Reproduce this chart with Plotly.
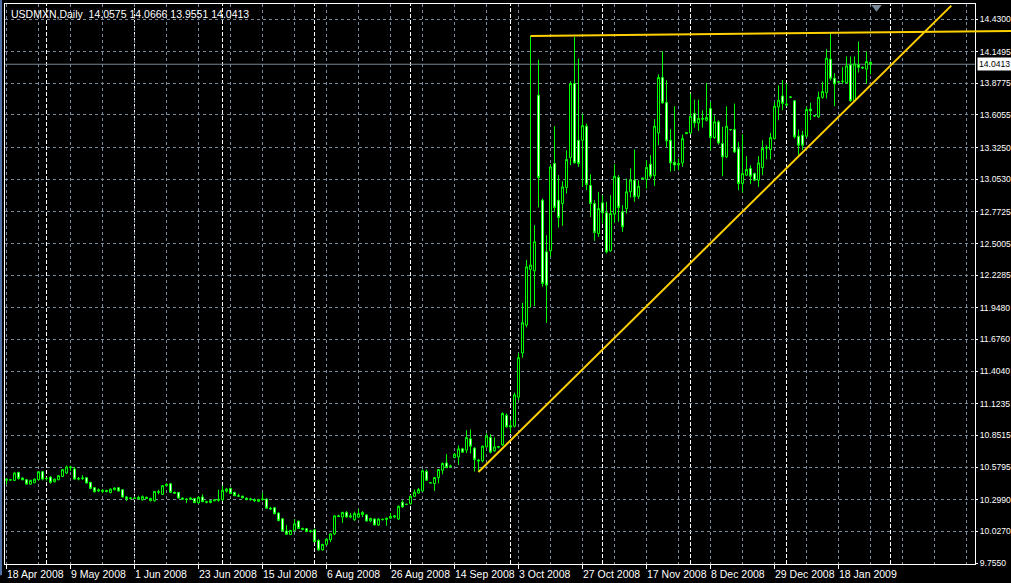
"""
USDMXN daily candles, MT4 style (black background, lime candles,
gold trendlines).
"""

import plotly.graph_objects as go


# ── Data ───────────────────────────────────────────────────────────────────────

SYMBOL = "USDMXN,Daily"

OPEN = [
    10.465, 10.468, 10.465, 10.534, 10.485, 10.471, 10.433, 10.445, 10.471, 10.539,
    10.480, 10.494, 10.453, 10.471, 10.499, 10.528, 10.574, 10.563, 10.476, 10.480,
    10.488, 10.448, 10.402, 10.373, 10.370, 10.378, 10.360, 10.385, 10.402, 10.385,
    10.322, 10.310, 10.313, 10.305, 10.298, 10.320, 10.290, 10.290, 10.362, 10.345,
    10.420, 10.436, 10.362, 10.362, 10.313, 10.305, 10.302, 10.310, 10.273, 10.322,
    10.282, 10.275, 10.290, 10.293, 10.298, 10.372, 10.396, 10.362, 10.333, 10.330,
    10.312, 10.300, 10.300, 10.285, 10.300, 10.305, 10.226, 10.230, 10.184, 10.135,
    10.030, 10.000, 10.035, 10.115, 10.052, 10.050, 10.025, 10.040, 9.948, 9.868,
    9.915, 9.955, 10.005, 10.160, 10.150, 10.190, 10.150, 10.128, 10.150, 10.170,
    10.168, 10.116, 10.133, 10.082, 10.128, 10.128, 10.140, 10.150, 10.133, 10.277,
    10.258, 10.265, 10.328, 10.357, 10.374, 10.541, 10.445, 10.438, 10.489, 10.552,
    10.615, 10.585, 10.661, 10.667, 10.736, 10.725, 10.822, 10.742, 10.640, 10.632,
    10.753, 10.833, 10.719, 10.750, 10.770, 11.023, 10.935, 10.930, 11.180, 11.560,
    11.800, 12.278, 12.266, 13.775, 12.873, 12.429, 12.438, 13.188, 12.873, 12.844,
    12.982, 13.239, 13.875, 13.388, 13.388, 13.509, 12.999, 12.844, 12.587, 12.850,
    12.764, 12.438, 12.753, 13.068, 12.773, 12.801, 12.945, 13.045, 12.907, 13.055,
    13.051, 13.182, 13.085, 13.451, 13.927, 13.712, 13.388, 13.199, 13.176, 13.193,
    13.445, 13.451, 13.617, 13.537, 13.575, 13.560, 13.660, 13.411, 13.546, 13.359,
    13.245, 13.478, 13.480, 13.317, 13.016, 13.088, 13.145, 13.102, 13.045, 13.153,
    13.320, 13.308, 13.402, 13.674, 13.769, 13.700, 13.757, 13.728, 13.423, 13.432,
    13.423, 13.656, 13.596, 13.590, 13.757, 13.797, 14.085, 13.921, 13.888, 13.892,
    13.883, 14.036, 13.728, 14.036, 14.016, 13.999, 14.0575,
]

HIGH = [
    10.482, 10.472, 10.539, 10.539, 10.490, 10.476, 10.470, 10.482, 10.545, 10.545,
    10.490, 10.500, 10.482, 10.510, 10.563, 10.592, 10.592, 10.580, 10.494, 10.510,
    10.494, 10.453, 10.408, 10.396, 10.390, 10.385, 10.396, 10.405, 10.405, 10.388,
    10.330, 10.322, 10.320, 10.333, 10.335, 10.325, 10.316, 10.373, 10.385, 10.425,
    10.442, 10.442, 10.370, 10.365, 10.318, 10.310, 10.320, 10.313, 10.325, 10.345,
    10.290, 10.295, 10.305, 10.385, 10.418, 10.400, 10.402, 10.367, 10.350, 10.333,
    10.318, 10.315, 10.310, 10.305, 10.356, 10.310, 10.238, 10.236, 10.190, 10.140,
    10.080, 10.040, 10.132, 10.118, 10.058, 10.055, 10.040, 10.050, 9.960, 9.920,
    9.965, 10.010, 10.165, 10.170, 10.195, 10.200, 10.185, 10.196, 10.219, 10.200,
    10.175, 10.140, 10.140, 10.140, 10.135, 10.145, 10.185, 10.165, 10.250, 10.294,
    10.262, 10.340, 10.386, 10.400, 10.560, 10.558, 10.448, 10.495, 10.560, 10.620,
    10.690, 10.600, 10.700, 10.765, 10.745, 10.897, 10.903, 10.750, 10.650, 10.765,
    10.870, 10.862, 10.833, 10.760, 11.050, 11.040, 10.983, 11.220, 11.560, 11.990,
    12.360, 14.284, 12.658, 14.081, 12.887, 12.572, 13.182, 13.509, 13.088, 13.036,
    13.302, 13.895, 14.276, 14.090, 13.617, 13.531, 13.096, 12.873, 12.945, 12.916,
    12.859, 12.916, 13.182, 13.088, 12.830, 13.059, 13.145, 13.308, 13.045, 13.065,
    13.217, 13.260, 13.569, 13.955, 14.153, 13.904, 13.483, 13.680, 13.231, 13.437,
    13.456, 13.789, 13.737, 13.737, 13.646, 13.881, 13.717, 13.603, 13.560, 13.503,
    13.680, 13.485, 13.703, 13.374, 13.440, 13.251, 13.173, 13.110, 13.251, 13.388,
    13.345, 13.451, 13.717, 13.860, 13.906, 13.878, 13.765, 13.734, 13.481, 13.469,
    13.676, 13.711, 13.605, 13.806, 13.892, 14.171, 14.309, 13.964, 13.898, 14.016,
    14.108, 14.108, 14.108, 14.237, 14.020, 14.151, 14.0666,
]

LOW = [
    10.430, 10.462, 10.459, 10.471, 10.466, 10.430, 10.428, 10.440, 10.465, 10.465,
    10.462, 10.437, 10.448, 10.465, 10.494, 10.520, 10.545, 10.470, 10.465, 10.468,
    10.437, 10.390, 10.362, 10.365, 10.356, 10.362, 10.354, 10.380, 10.370, 10.318,
    10.287, 10.300, 10.305, 10.300, 10.290, 10.305, 10.285, 10.282, 10.345, 10.340,
    10.415, 10.356, 10.350, 10.310, 10.300, 10.270, 10.298, 10.270, 10.265, 10.278,
    10.268, 10.268, 10.285, 10.282, 10.290, 10.360, 10.350, 10.330, 10.322, 10.310,
    10.295, 10.290, 10.280, 10.280, 10.290, 10.222, 10.210, 10.175, 10.112, 10.029,
    10.000, 9.995, 10.030, 10.050, 10.035, 10.020, 10.015, 9.935, 9.860, 9.860,
    9.905, 9.935, 9.995, 10.150, 10.100, 10.145, 10.140, 10.116, 10.140, 10.150,
    10.110, 10.105, 10.080, 10.075, 10.120, 10.075, 10.135, 10.140, 10.125, 10.230,
    10.255, 10.255, 10.320, 10.350, 10.368, 10.462, 10.440, 10.374, 10.440, 10.518,
    10.570, 10.575, 10.655, 10.598, 10.700, 10.700, 10.696, 10.541, 10.540, 10.620,
    10.745, 10.696, 10.710, 10.740, 10.760, 10.920, 10.870, 10.920, 11.150, 11.520,
    11.780, 11.950, 11.963, 12.810, 12.129, 11.819, 12.386, 12.773, 12.638, 12.653,
    12.930, 13.174, 13.188, 13.159, 12.987, 12.959, 12.730, 12.524, 12.558, 12.673,
    12.415, 12.429, 12.678, 12.687, 12.601, 12.758, 12.896, 12.859, 12.884, 13.050,
    12.973, 13.060, 12.996, 13.345, 13.703, 13.331, 13.119, 13.125, 13.130, 13.159,
    13.440, 13.440, 13.497, 13.468, 13.497, 13.550, 13.302, 13.400, 13.350, 13.079,
    13.235, 13.470, 13.280, 12.959, 12.936, 13.080, 13.010, 13.038, 12.987, 13.088,
    13.225, 13.225, 13.395, 13.560, 13.648, 13.680, 13.750, 13.403, 13.259, 13.303,
    13.410, 13.561, 13.590, 13.580, 13.745, 13.748, 13.901, 13.682, 13.880, 13.870,
    13.875, 13.719, 13.720, 13.970, 14.000, 13.872, 13.9551,
]

CLOSE = [
    10.476, 10.470, 10.528, 10.482, 10.470, 10.433, 10.465, 10.476, 10.539, 10.476,
    10.482, 10.448, 10.476, 10.505, 10.557, 10.580, 10.580, 10.476, 10.480, 10.485,
    10.442, 10.396, 10.367, 10.385, 10.378, 10.370, 10.390, 10.399, 10.373, 10.322,
    10.310, 10.313, 10.310, 10.318, 10.325, 10.310, 10.310, 10.370, 10.368, 10.420,
    10.430, 10.362, 10.355, 10.313, 10.305, 10.302, 10.312, 10.273, 10.320, 10.282,
    10.278, 10.290, 10.298, 10.302, 10.380, 10.390, 10.352, 10.333, 10.330, 10.315,
    10.300, 10.305, 10.290, 10.302, 10.305, 10.226, 10.220, 10.178, 10.120, 10.031,
    10.002, 10.035, 10.092, 10.052, 10.045, 10.025, 10.030, 9.937, 9.868, 9.915,
    9.960, 10.005, 10.160, 10.155, 10.190, 10.150, 10.160, 10.179, 10.179, 10.190,
    10.116, 10.139, 10.082, 10.133, 10.130, 10.140, 10.156, 10.160, 10.242, 10.237,
    10.260, 10.328, 10.363, 10.386, 10.547, 10.466, 10.443, 10.489, 10.558, 10.610,
    10.575, 10.588, 10.690, 10.736, 10.707, 10.833, 10.759, 10.644, 10.632, 10.759,
    10.845, 10.707, 10.753, 10.755, 11.040, 10.925, 10.925, 11.200, 11.520, 11.820,
    12.300, 12.315, 12.515, 13.068, 12.157, 12.143, 13.159, 12.810, 12.724, 12.987,
    13.222, 13.875, 13.194, 13.188, 13.514, 13.008, 12.844, 12.595, 12.801, 12.764,
    12.429, 12.758, 13.079, 12.810, 12.644, 12.945, 13.045, 12.902, 12.993, 13.062,
    13.154, 13.079, 13.509, 13.927, 13.709, 13.383, 13.193, 13.176, 13.188, 13.402,
    13.453, 13.594, 13.537, 13.577, 13.570, 13.583, 13.411, 13.546, 13.365, 13.245,
    13.508, 13.480, 13.288, 13.016, 13.102, 13.136, 13.079, 13.045, 13.193, 13.317,
    13.326, 13.411, 13.680, 13.732, 13.705, 13.690, 13.760, 13.418, 13.346, 13.346,
    13.653, 13.640, 13.600, 13.757, 13.806, 14.093, 13.921, 13.872, 13.892, 13.895,
    14.027, 13.728, 14.044, 14.016, 14.010, 14.064, 14.0413,
]

# date labels sit every 16 bars, grid every 8 bars
LABEL_BARS = [0, 16, 32, 48, 64, 80, 96, 112, 128, 144, 160, 176, 192, 208]
LABEL_TEXT = [
    "18 Apr 2008", "9 May 2008", "1 Jun 2008", "23 Jun 2008", "15 Jul 2008",
    "6 Aug 2008", "26 Aug 2008", "14 Sep 2008", "3 Oct 2008", "27 Oct 2008",
    "17 Nov 2008", "8 Dec 2008", "29 Dec 2008", "18 Jan 2009",
]
GRID_BARS = [8 * k for k in range(31)]

# first bar of each month (period separators)
MONTH_START_BARS = [10, 32, 54, 77, 101, 126, 149, 171, 195, 221]

PRICE_TICKS = [
    14.4300, 14.1495, 13.8775, 13.6055, 13.3250, 13.0530, 12.7725, 12.5005, 12.2285,
    11.9480, 11.6760, 11.4040, 11.1235, 10.8515, 10.5795, 10.2990, 10.0270, 9.7550,
]

# trendlines: (bar, price) anchor points
SUPPORT_LINE = [(118.0, 10.537), (236.2, 14.545)]
RESIST_LINE = [(131.0, 14.284), (251.2, 14.327)]

SHIFT_BAR = 217.5


# ── Look ──────────────────────────────────────────────────────────────────────

# 4 px per bar, plot area 970 px wide; bar centres land on half pixels
X_RANGE = [-0.375, 242.125]
Y_RANGE = [9.7464, 14.559]

BG = "#000000"
FG = "#FFFFFF"
CANDLE = "#00FF00"
GRID = "#778899"
TREND = "#FFD000"
FONT = dict(family="Liberation Sans, Arial, sans-serif", size=10.5, color=FG)
AXIS_FONT = dict(FONT, size=8.6)


def to_paper(bar, price):
    px = (bar - X_RANGE[0]) / (X_RANGE[1] - X_RANGE[0])
    py = (price - Y_RANGE[0]) / (Y_RANGE[1] - Y_RANGE[0])
    return px, py


bars = list(range(len(CLOSE)))

fig = go.Figure()

fig.add_trace(
    go.Candlestick(
        x=bars,
        open=OPEN,
        high=HIGH,
        low=LOW,
        close=CLOSE,
        increasing=dict(line=dict(color=CANDLE, width=1), fillcolor=BG),
        decreasing=dict(line=dict(color=CANDLE, width=1), fillcolor=FG),
        whiskerwidth=0,
        hoverinfo="skip",
        showlegend=False,
    )
)

# chart-shift marker at the top
fig.add_trace(
    go.Scatter(
        x=[SHIFT_BAR],
        y=[Y_RANGE[1] - 0.028],
        mode="markers",
        marker=dict(symbol="triangle-down", size=9, color=GRID),
        cliponaxis=False,
        hoverinfo="skip",
        showlegend=False,
    )
)

shapes = []

# month separators
for b in MONTH_START_BARS:
    shapes.append(dict(
        type="line", xref="x", yref="paper", x0=b, x1=b, y0=0, y1=1,
        line=dict(color=FG, width=1, dash="4px,2px"), layer="between",
    ))

# current price line
shapes.append(dict(
    type="line", xref="paper", yref="y", x0=0, x1=1, y0=CLOSE[-1], y1=CLOSE[-1],
    line=dict(color=GRID, width=1), layer="between",
))

# trendlines (paper coords so they are not clipped at the frame)
for (b0, p0), (b1, p1) in (SUPPORT_LINE, RESIST_LINE):
    x0, y0 = to_paper(b0, p0)
    x1, y1 = to_paper(b1, p1)
    shapes.append(dict(
        type="line", xref="paper", yref="paper", x0=x0, y0=y0, x1=x1, y1=y1,
        line=dict(color=TREND, width=2), layer="above",
    ))

# window border on the left
shapes.append(dict(
    type="rect", xref="paper", yref="paper", x0=-5 / 970, x1=-3 / 970, y0=-0.02, y1=1.01,
    fillcolor="#4f6fa8", line=dict(width=0), layer="above",
))

annotations = [
    dict(
        text=f"{SYMBOL}\u00a0 {OPEN[-1]:.4f} {HIGH[-1]:.4f} {LOW[-1]:.4f} {CLOSE[-1]:.4f}",
        xref="paper", yref="paper", x=4 / 970, y=1, xanchor="left", yanchor="top",
        yshift=-2, showarrow=False, font=FONT,
    ),
    dict(
        text=f"{CLOSE[-1]:.4f}", xref="paper", yref="y", x=1, y=CLOSE[-1],
        xanchor="left", yanchor="middle", xshift=2, showarrow=False,
        bgcolor=FG, borderpad=1, font=dict(AXIS_FONT, color="#000000"),
    ),
]
for b, t in zip(LABEL_BARS, LABEL_TEXT):
    annotations.append(dict(
        text=t, xref="x", yref="paper", x=b, y=0, xanchor="left", yanchor="top",
        xshift=-2, yshift=-2, showarrow=False, font=FONT,
    ))

fig.update_layout(
    width=1011,
    height=583,
    paper_bgcolor=BG,
    plot_bgcolor=BG,
    margin=dict(l=5, r=36, t=4, b=19, autoexpand=False),
    boxgap=0.5,
    boxgroupgap=0,
    font=FONT,
    shapes=shapes,
    annotations=annotations,
    xaxis=dict(
        range=X_RANGE,
        rangeslider=dict(visible=False),
        tickvals=LABEL_BARS,
        showticklabels=False,
        ticks="outside",
        ticklen=4,
        tickcolor=FG,
        showgrid=True,
        gridcolor=GRID,
        griddash="3px,3px",
        minor=dict(tickvals=GRID_BARS, showgrid=True, gridcolor=GRID, griddash="3px,3px"),
        showline=True,
        linecolor=FG,
        linewidth=1,
        mirror=True,
        zeroline=False,
        automargin=False,
        fixedrange=True,
    ),
    yaxis=dict(
        side="right",
        range=Y_RANGE,
        tickvals=PRICE_TICKS,
        ticktext=[f"{v:.4f}" for v in PRICE_TICKS],
        ticks="outside",
        ticklen=2,
        tickcolor=FG,
        tickfont=AXIS_FONT,
        showgrid=True,
        gridcolor=GRID,
        griddash="3px,3px",
        showline=True,
        linecolor=FG,
        linewidth=1,
        mirror=True,
        zeroline=False,
        automargin=False,
        fixedrange=True,
    ),
)

# the page body has an 8px default margin; drop it so the figure sits at 0,0
fig.write_html(
    "out.html",
    config={"displayModeBar": False},
    post_script="document.body.style.margin='0';",
)
